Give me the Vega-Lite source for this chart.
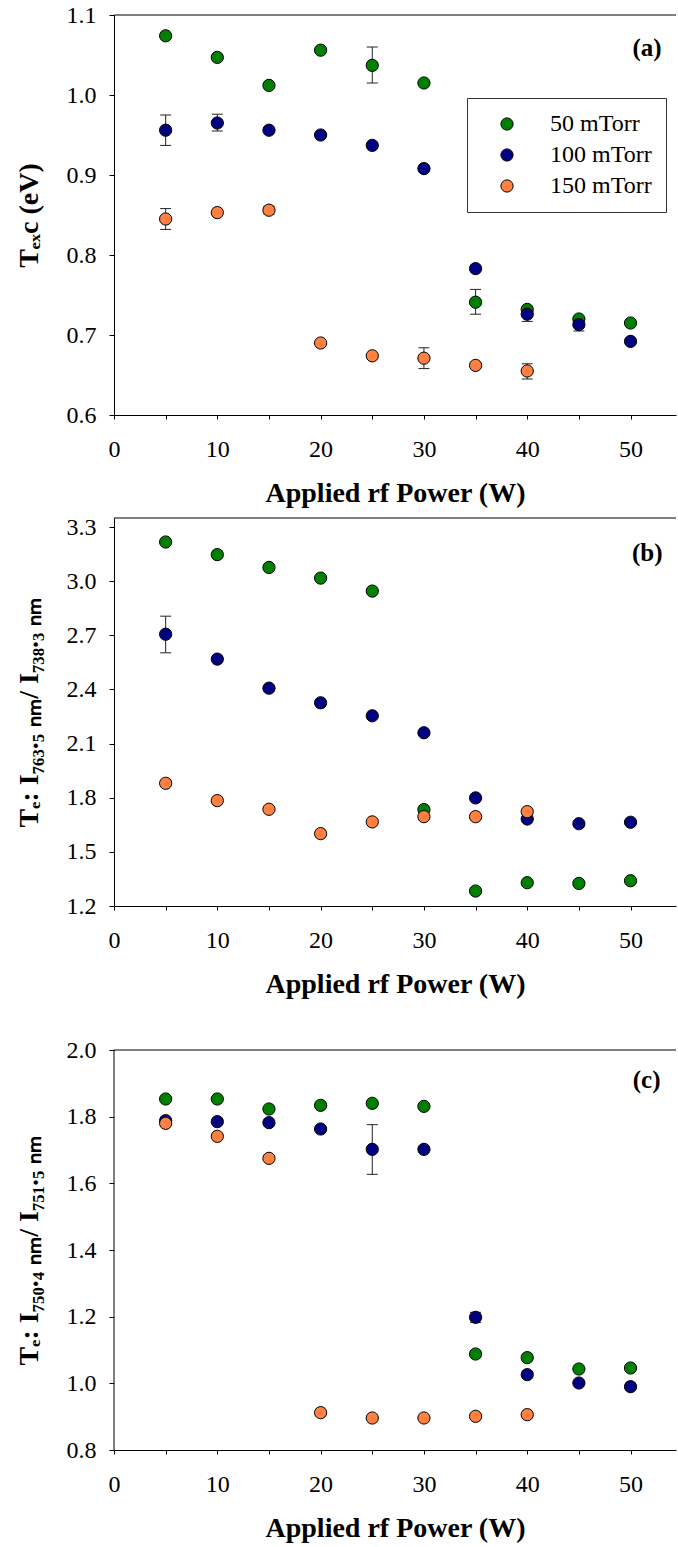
{
  "$schema": "https://vega.github.io/schema/vega-lite/v6.json",
  "background": "white",
  "padding": {"left": 15, "top": 3, "right": 0, "bottom": 3},
  "data": {"values": [
    {"panel": "a", "pressure": "50 mTorr", "power": 5, "value": 1.074},
    {"panel": "a", "pressure": "50 mTorr", "power": 10, "value": 1.047},
    {"panel": "a", "pressure": "50 mTorr", "power": 15, "value": 1.012},
    {"panel": "a", "pressure": "50 mTorr", "power": 20, "value": 1.056},
    {"panel": "a", "pressure": "50 mTorr", "power": 25, "value": 1.037, "lo": 1.015, "hi": 1.06},
    {"panel": "a", "pressure": "50 mTorr", "power": 30, "value": 1.015},
    {"panel": "a", "pressure": "50 mTorr", "power": 35, "value": 0.741, "lo": 0.726, "hi": 0.757},
    {"panel": "a", "pressure": "50 mTorr", "power": 40, "value": 0.732},
    {"panel": "a", "pressure": "50 mTorr", "power": 45, "value": 0.72},
    {"panel": "a", "pressure": "50 mTorr", "power": 50, "value": 0.715},
    {"panel": "a", "pressure": "100 mTorr", "power": 5, "value": 0.956, "lo": 0.937, "hi": 0.975},
    {"panel": "a", "pressure": "100 mTorr", "power": 10, "value": 0.965, "lo": 0.955, "hi": 0.976},
    {"panel": "a", "pressure": "100 mTorr", "power": 15, "value": 0.956},
    {"panel": "a", "pressure": "100 mTorr", "power": 20, "value": 0.95},
    {"panel": "a", "pressure": "100 mTorr", "power": 25, "value": 0.937},
    {"panel": "a", "pressure": "100 mTorr", "power": 30, "value": 0.908},
    {"panel": "a", "pressure": "100 mTorr", "power": 35, "value": 0.783},
    {"panel": "a", "pressure": "100 mTorr", "power": 40, "value": 0.726, "lo": 0.717, "hi": 0.734},
    {"panel": "a", "pressure": "100 mTorr", "power": 45, "value": 0.713, "lo": 0.705, "hi": 0.721},
    {"panel": "a", "pressure": "100 mTorr", "power": 50, "value": 0.692},
    {"panel": "a", "pressure": "150 mTorr", "power": 5, "value": 0.845, "lo": 0.832, "hi": 0.858},
    {"panel": "a", "pressure": "150 mTorr", "power": 10, "value": 0.853},
    {"panel": "a", "pressure": "150 mTorr", "power": 15, "value": 0.856, "lo": 0.851, "hi": 0.861},
    {"panel": "a", "pressure": "150 mTorr", "power": 20, "value": 0.69},
    {"panel": "a", "pressure": "150 mTorr", "power": 25, "value": 0.674},
    {"panel": "a", "pressure": "150 mTorr", "power": 30, "value": 0.671, "lo": 0.658, "hi": 0.684},
    {"panel": "a", "pressure": "150 mTorr", "power": 35, "value": 0.662},
    {"panel": "a", "pressure": "150 mTorr", "power": 40, "value": 0.655, "lo": 0.645, "hi": 0.664},

    {"panel": "b", "pressure": "50 mTorr", "power": 5, "value": 3.217},
    {"panel": "b", "pressure": "50 mTorr", "power": 10, "value": 3.147},
    {"panel": "b", "pressure": "50 mTorr", "power": 15, "value": 3.076},
    {"panel": "b", "pressure": "50 mTorr", "power": 20, "value": 3.017},
    {"panel": "b", "pressure": "50 mTorr", "power": 25, "value": 2.945},
    {"panel": "b", "pressure": "50 mTorr", "power": 30, "value": 1.734},
    {"panel": "b", "pressure": "50 mTorr", "power": 35, "value": 1.283},
    {"panel": "b", "pressure": "50 mTorr", "power": 40, "value": 1.329},
    {"panel": "b", "pressure": "50 mTorr", "power": 45, "value": 1.325},
    {"panel": "b", "pressure": "50 mTorr", "power": 50, "value": 1.34},
    {"panel": "b", "pressure": "100 mTorr", "power": 5, "value": 2.706, "lo": 2.603, "hi": 2.806},
    {"panel": "b", "pressure": "100 mTorr", "power": 10, "value": 2.568},
    {"panel": "b", "pressure": "100 mTorr", "power": 15, "value": 2.407},
    {"panel": "b", "pressure": "100 mTorr", "power": 20, "value": 2.326},
    {"panel": "b", "pressure": "100 mTorr", "power": 25, "value": 2.254},
    {"panel": "b", "pressure": "100 mTorr", "power": 30, "value": 2.16},
    {"panel": "b", "pressure": "100 mTorr", "power": 35, "value": 1.799},
    {"panel": "b", "pressure": "100 mTorr", "power": 40, "value": 1.682},
    {"panel": "b", "pressure": "100 mTorr", "power": 45, "value": 1.656},
    {"panel": "b", "pressure": "100 mTorr", "power": 50, "value": 1.664},
    {"panel": "b", "pressure": "150 mTorr", "power": 5, "value": 1.88},
    {"panel": "b", "pressure": "150 mTorr", "power": 10, "value": 1.784},
    {"panel": "b", "pressure": "150 mTorr", "power": 15, "value": 1.736},
    {"panel": "b", "pressure": "150 mTorr", "power": 20, "value": 1.601},
    {"panel": "b", "pressure": "150 mTorr", "power": 25, "value": 1.666},
    {"panel": "b", "pressure": "150 mTorr", "power": 30, "value": 1.695},
    {"panel": "b", "pressure": "150 mTorr", "power": 35, "value": 1.695},
    {"panel": "b", "pressure": "150 mTorr", "power": 40, "value": 1.723},

    {"panel": "c", "pressure": "50 mTorr", "power": 5, "value": 1.853},
    {"panel": "c", "pressure": "50 mTorr", "power": 10, "value": 1.853},
    {"panel": "c", "pressure": "50 mTorr", "power": 15, "value": 1.823},
    {"panel": "c", "pressure": "50 mTorr", "power": 20, "value": 1.834},
    {"panel": "c", "pressure": "50 mTorr", "power": 25, "value": 1.84},
    {"panel": "c", "pressure": "50 mTorr", "power": 30, "value": 1.831},
    {"panel": "c", "pressure": "50 mTorr", "power": 35, "value": 1.088, "lo": 1.078, "hi": 1.098},
    {"panel": "c", "pressure": "50 mTorr", "power": 40, "value": 1.077},
    {"panel": "c", "pressure": "50 mTorr", "power": 45, "value": 1.043},
    {"panel": "c", "pressure": "50 mTorr", "power": 50, "value": 1.046},
    {"panel": "c", "pressure": "100 mTorr", "power": 5, "value": 1.788},
    {"panel": "c", "pressure": "100 mTorr", "power": 10, "value": 1.785},
    {"panel": "c", "pressure": "100 mTorr", "power": 15, "value": 1.782},
    {"panel": "c", "pressure": "100 mTorr", "power": 20, "value": 1.763},
    {"panel": "c", "pressure": "100 mTorr", "power": 25, "value": 1.702, "lo": 1.627, "hi": 1.776},
    {"panel": "c", "pressure": "100 mTorr", "power": 30, "value": 1.702},
    {"panel": "c", "pressure": "100 mTorr", "power": 35, "value": 1.198, "lo": 1.183, "hi": 1.213},
    {"panel": "c", "pressure": "100 mTorr", "power": 40, "value": 1.026},
    {"panel": "c", "pressure": "100 mTorr", "power": 45, "value": 1.001},
    {"panel": "c", "pressure": "100 mTorr", "power": 50, "value": 0.99},
    {"panel": "c", "pressure": "150 mTorr", "power": 5, "value": 1.78},
    {"panel": "c", "pressure": "150 mTorr", "power": 10, "value": 1.741},
    {"panel": "c", "pressure": "150 mTorr", "power": 15, "value": 1.675},
    {"panel": "c", "pressure": "150 mTorr", "power": 20, "value": 0.912},
    {"panel": "c", "pressure": "150 mTorr", "power": 25, "value": 0.896},
    {"panel": "c", "pressure": "150 mTorr", "power": 30, "value": 0.896},
    {"panel": "c", "pressure": "150 mTorr", "power": 35, "value": 0.901},
    {"panel": "c", "pressure": "150 mTorr", "power": 40, "value": 0.906}
  ]},
  "bounds": "flush",
  "spacing": 103,
  "resolve": {"legend": {"color": "independent"}},
  "vconcat": [
    {
      "width": 562,
      "height": 400,
      "transform": [{"filter": "datum.panel === 'a'"}],
      "layer": [
        {
          "data": {"values": [{}]},
          "mark": {"type": "rule", "color": "black", "strokeWidth": 1},
          "encoding": {"y": {"datum": 1.1, "type": "quantitative", "scale": {"domain": [0.6, 1.1], "nice": false, "zero": false}}}
        },
        {
          "transform": [{"filter": "isValid(datum.lo)"}],
          "mark": {"type": "rule", "color": "#222", "strokeWidth": 1},
          "encoding": {
            "x": {"field": "power", "type": "quantitative"},
            "y": {"field": "lo", "type": "quantitative", "title": "Tₑₓc (eV)"},
            "y2": {"field": "hi"}
          }
        },
        {
          "transform": [{"filter": "isValid(datum.lo)"}],
          "mark": {"type": "tick", "orient": "horizontal", "color": "#222", "size": 11, "thickness": 1, "opacity": 1},
          "encoding": {
            "x": {"field": "power", "type": "quantitative"},
            "y": {"field": "lo", "type": "quantitative", "title": "Tₑₓc (eV)"}
          }
        },
        {
          "transform": [{"filter": "isValid(datum.hi)"}],
          "mark": {"type": "tick", "orient": "horizontal", "color": "#222", "size": 11, "thickness": 1, "opacity": 1},
          "encoding": {
            "x": {"field": "power", "type": "quantitative"},
            "y": {"field": "hi", "type": "quantitative", "title": "Tₑₓc (eV)"}
          }
        },
        {
          "mark": {"type": "point", "filled": true, "size": 150, "stroke": "black", "strokeWidth": 1, "opacity": 1},
          "encoding": {
            "x": {"field": "power", "type": "quantitative", "scale": {"domain": [0, 54.4], "nice": false, "zero": false},
              "axis": {"values": [0, 5, 10, 15, 20, 25, 30, 35, 40, 45, 50], "labelExpr": "datum.value % 10 === 0 ? datum.label : ''", "labelFlush": false, "labelOverlap": false},
              "title": "Applied rf Power (W)"},
            "y": {"field": "value", "type": "quantitative", "scale": {"domain": [0.6, 1.1], "nice": false, "zero": false},
              "axis": {"values": [0.6, 0.7, 0.8, 0.9, 1.0, 1.1], "format": ".1f"},
              "title": "Tₑₓc (eV)"},
            "color": {"field": "pressure", "type": "nominal",
              "scale": {"domain": ["50 mTorr", "100 mTorr", "150 mTorr"], "range": ["#008000", "#000080", "#FF8040"]},
              "legend": {"orient": "none", "legendX": 353, "legendY": 83, "title": null, "padding": 14,
                "strokeColor": "#333", "fillColor": "white", "labelFontSize": 24, "labelFont": "Liberation Serif", "labelColor": "black",
                "symbolType": "circle", "symbolSize": 150, "symbolStrokeColor": "black", "symbolStrokeWidth": 1,
                "symbolOffset": 14, "labelOffset": 31, "rowPadding": 7, "symbolOpacity": 1}}
          }
        },
        {
          "data": {"values": [{}]},
          "mark": {"type": "text", "text": "(a)", "align": "right", "baseline": "middle", "font": "Liberation Serif", "fontSize": 25, "fontWeight": "bold", "color": "black"},
          "encoding": {"x": {"datum": 53, "type": "quantitative"}, "y": {"datum": 1.059, "type": "quantitative"}}
        }
      ]
    },
    {
      "width": 562,
      "height": 388,
      "transform": [{"filter": "datum.panel === 'b'"}],
      "layer": [
        {
          "data": {"values": [{}]},
          "mark": {"type": "rule", "color": "black", "strokeWidth": 1},
          "encoding": {"y": {"datum": 3.35, "type": "quantitative", "scale": {"domain": [1.2, 3.35], "nice": false, "zero": false}}}
        },
        {
          "transform": [{"filter": "isValid(datum.lo)"}],
          "mark": {"type": "rule", "color": "#222", "strokeWidth": 1},
          "encoding": {
            "x": {"field": "power", "type": "quantitative"},
            "y": {"field": "lo", "type": "quantitative", "title": "Tₑ: I₇₆₃.₅ ₙₘ/ I₇₃₈.₃ ₙₘ"},
            "y2": {"field": "hi"}
          }
        },
        {
          "transform": [{"filter": "isValid(datum.lo)"}],
          "mark": {"type": "tick", "orient": "horizontal", "color": "#222", "size": 11, "thickness": 1, "opacity": 1},
          "encoding": {
            "x": {"field": "power", "type": "quantitative"},
            "y": {"field": "lo", "type": "quantitative", "title": "Tₑ: I₇₆₃.₅ ₙₘ/ I₇₃₈.₃ ₙₘ"}
          }
        },
        {
          "transform": [{"filter": "isValid(datum.hi)"}],
          "mark": {"type": "tick", "orient": "horizontal", "color": "#222", "size": 11, "thickness": 1, "opacity": 1},
          "encoding": {
            "x": {"field": "power", "type": "quantitative"},
            "y": {"field": "hi", "type": "quantitative", "title": "Tₑ: I₇₆₃.₅ ₙₘ/ I₇₃₈.₃ ₙₘ"}
          }
        },
        {
          "mark": {"type": "point", "filled": true, "size": 150, "stroke": "black", "strokeWidth": 1, "opacity": 1},
          "encoding": {
            "x": {"field": "power", "type": "quantitative", "scale": {"domain": [0, 54.4], "nice": false, "zero": false},
              "axis": {"values": [0, 5, 10, 15, 20, 25, 30, 35, 40, 45, 50], "labelExpr": "datum.value % 10 === 0 ? datum.label : ''", "labelFlush": false, "labelOverlap": false},
              "title": "Applied rf Power (W)"},
            "y": {"field": "value", "type": "quantitative", "scale": {"domain": [1.2, 3.35], "nice": false, "zero": false},
              "axis": {"values": [1.2, 1.5, 1.8, 2.1, 2.4, 2.7, 3.0, 3.3], "format": ".1f"},
              "title": "Tₑ: I₇₆₃.₅ ₙₘ/ I₇₃₈.₃ ₙₘ"},
            "color": {"field": "pressure", "type": "nominal",
              "scale": {"domain": ["50 mTorr", "100 mTorr", "150 mTorr"], "range": ["#008000", "#000080", "#FF8040"]},
              "legend": null}
          }
        },
        {
          "data": {"values": [{}]},
          "mark": {"type": "text", "text": "(b)", "align": "right", "baseline": "middle", "font": "Liberation Serif", "fontSize": 25, "fontWeight": "bold", "color": "black"},
          "encoding": {"x": {"datum": 53.1, "type": "quantitative"}, "y": {"datum": 3.156, "type": "quantitative"}}
        }
      ]
    },
    {
      "width": 562,
      "height": 441,
      "transform": [{"filter": "datum.panel === 'c'"}],
      "layer": [
        {
          "data": {"values": [{}]},
          "mark": {"type": "rule", "color": "black", "strokeWidth": 1},
          "encoding": {"y": {"datum": 2.0, "type": "quantitative", "scale": {"domain": [0.8, 2.123], "nice": false, "zero": false}}}
        },
        {
          "data": {"values": [{}]},
          "mark": {"type": "rule", "color": "black", "strokeWidth": 1},
          "encoding": {"x": {"datum": 0, "type": "quantitative"}, "y": {"datum": 0.8, "type": "quantitative"}, "y2": {"datum": 2.0}}
        },
        {
          "transform": [{"filter": "isValid(datum.lo)"}],
          "mark": {"type": "rule", "color": "#222", "strokeWidth": 1},
          "encoding": {
            "x": {"field": "power", "type": "quantitative"},
            "y": {"field": "lo", "type": "quantitative", "title": "Tₑ: I₇₅₀.₄ ₙₘ/ I₇₅₁.₅ ₙₘ"},
            "y2": {"field": "hi"}
          }
        },
        {
          "transform": [{"filter": "isValid(datum.lo)"}],
          "mark": {"type": "tick", "orient": "horizontal", "color": "#222", "size": 11, "thickness": 1, "opacity": 1},
          "encoding": {
            "x": {"field": "power", "type": "quantitative"},
            "y": {"field": "lo", "type": "quantitative", "title": "Tₑ: I₇₅₀.₄ ₙₘ/ I₇₅₁.₅ ₙₘ"}
          }
        },
        {
          "transform": [{"filter": "isValid(datum.hi)"}],
          "mark": {"type": "tick", "orient": "horizontal", "color": "#222", "size": 11, "thickness": 1, "opacity": 1},
          "encoding": {
            "x": {"field": "power", "type": "quantitative"},
            "y": {"field": "hi", "type": "quantitative", "title": "Tₑ: I₇₅₀.₄ ₙₘ/ I₇₅₁.₅ ₙₘ"}
          }
        },
        {
          "mark": {"type": "point", "filled": true, "size": 150, "stroke": "black", "strokeWidth": 1, "opacity": 1},
          "encoding": {
            "x": {"field": "power", "type": "quantitative", "scale": {"domain": [0, 54.4], "nice": false, "zero": false},
              "axis": {"values": [0, 5, 10, 15, 20, 25, 30, 35, 40, 45, 50], "labelExpr": "datum.value % 10 === 0 ? datum.label : ''", "labelFlush": false, "labelOverlap": false},
              "title": "Applied rf Power (W)"},
            "y": {"field": "value", "type": "quantitative", "scale": {"domain": [0.8, 2.123], "nice": false, "zero": false},
              "axis": {"values": [0.8, 1.0, 1.2, 1.4, 1.6, 1.8, 2.0], "format": ".1f", "domain": false, "titleY": 241},
              "title": "Tₑ: I₇₅₀.₄ ₙₘ/ I₇₅₁.₅ ₙₘ"},
            "color": {"field": "pressure", "type": "nominal",
              "scale": {"domain": ["50 mTorr", "100 mTorr", "150 mTorr"], "range": ["#008000", "#000080", "#FF8040"]},
              "legend": null}
          }
        },
        {
          "data": {"values": [{}]},
          "mark": {"type": "text", "text": "(c)", "align": "right", "baseline": "middle", "font": "Liberation Serif", "fontSize": 25, "fontWeight": "bold", "color": "black"},
          "encoding": {"x": {"datum": 52.9, "type": "quantitative"}, "y": {"datum": 1.91, "type": "quantitative"}}
        }
      ]
    }
  ],
  "config": {
    "view": {"stroke": null},
    "font": "Liberation Serif",
    "axis": {
      "grid": false, "domainColor": "black", "tickColor": "black", "labelColor": "black", "titleColor": "black",
      "labelFont": "Liberation Serif", "titleFont": "Liberation Serif", "labelFontSize": 24, "titleFontSize": 28,
      "titleFontWeight": "bold", "domainWidth": 1, "tickWidth": 1
    },
    "axisX": {"tickSize": 4, "labelPadding": 18, "titlePadding": 18},
    "axisY": {"tickSize": 5, "labelPadding": 13, "titlePadding": 23}
  }
}
